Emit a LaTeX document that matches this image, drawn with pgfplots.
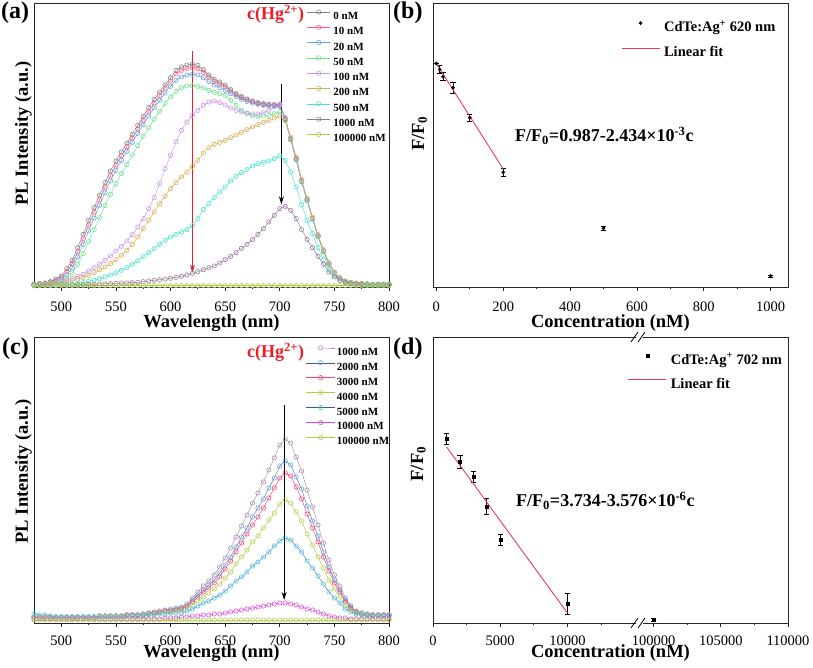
\documentclass[border=0pt]{standalone}
\usepackage{fontspec}
\setmainfont{Liberation Serif}
\usepackage{pgfplots}
\usepackage{pgfplotstable}
\pgfplotsset{compat=1.18}
\usetikzlibrary{arrows.meta}

\definecolor{cGray}{RGB}{128,128,128}
\definecolor{cPink}{RGB}{240,100,130}
\definecolor{cBlue}{RGB}{100,160,225}
\definecolor{cGreen}{RGB}{110,225,140}
\definecolor{cLav}{RGB}{200,150,230}
\definecolor{cGold}{RGB}{215,175,85}
\definecolor{cAqua}{RGB}{70,230,200}
\definecolor{cMauve}{RGB}{150,120,155}
\definecolor{cYG}{RGB}{175,205,70}
\definecolor{cNavy}{RGB}{70,85,160}
\definecolor{cSky}{RGB}{100,170,230}
\definecolor{cRose}{RGB}{240,70,115}
\definecolor{cCyan}{RGB}{70,200,235}
\definecolor{cMag}{RGB}{210,80,215}
\definecolor{cRed}{RGB}{235,30,40}
\definecolor{cFit}{RGB}{235,60,85}

\pgfplotstableread{
wl g p b gr lv gd aq mv yg
475 8 8 8 7 5 5 4 5 4
480 10 10 9 8 6 6 4 5 4
485 12 11 10 9 7 7 5 5 4
490 16 14 12 10 9 8 5 5 4
495 24 20 16 13 12 10 6 5 4
500 33 28 22 17 16 12 7 6 4
505 55 46 36 26 21 15 8 6 4
510 80 70 57 42 26 19 9 6 4
515 118 106 90 68 32 24 11 7 4
520 158 145 128 100 38 28 13 7 4
525 200 186 168 136 48 35 17 8 4
530 238 225 207 172 58 43 21 8 4
535 275 262 245 208 68 52 25 9 4
540 313 300 283 244 80 60 30 9 4
545 348 335 318 278 93 70 36 10 4
550 378 366 350 310 108 82 43 11 4
555 405 394 380 340 122 95 50 12 4
560 432 421 407 368 138 110 58 12 4
565 458 447 434 396 157 128 68 13 4
570 485 474 461 424 180 150 79 14 4
575 512 501 487 452 205 175 91 16 4
580 538 527 513 478 235 200 103 18 4
585 563 552 537 503 268 225 115 20 4
590 585 575 560 527 310 250 128 22 4
595 606 597 582 550 355 272 140 24 4
600 628 618 602 570 395 295 150 26 4
605 650 639 620 587 435 313 158 29 4
610 660 650 630 598 470 330 165 32 4
615 666 656 636 603 495 345 172 36 4
620 668 658 638 604 515 362 184 41 4
625 665 655 636 602 530 380 205 46 4
630 652 644 628 597 545 402 232 52 4
635 636 630 617 590 555 418 250 58 4
640 623 617 606 584 558 428 268 63 4
645 615 609 598 580 553 434 285 72 4
650 606 600 590 575 546 440 300 82 4
655 592 588 580 560 537 448 318 92 4
660 580 577 571 545 530 456 332 103 4
665 571 568 563 530 525 464 343 116 4
670 564 561 557 520 522 472 352 128 4
675 558 556 552 514 519 480 363 142 4
680 553 551 548 512 519 487 370 158 4
685 550 548 545 513 523 494 374 175 4
690 548 546 544 515 530 500 378 195 4
695 547 545 543 520 540 507 385 215 4
700 547 544 542 525 548 513 393 235 4
705 505 503 502 500 508 500 380 242 4
710 445 443 442 441 446 450 345 230 4
715 385 383 382 381 386 390 300 205 4
720 318 316 316 315 319 323 248 172 4
725 262 260 260 259 263 266 200 143 4
730 205 204 204 203 206 209 160 118 4
735 153 152 152 151 154 157 118 92 4
740 108 107 107 106 109 112 82 68 4
745 70 69 69 68 71 73 52 45 4
750 42 42 42 41 43 45 33 30 4
755 27 26 26 26 27 28 20 20 4
760 17 17 17 17 17 18 13 14 4
765 13 13 13 13 13 14 10 10 4
770 11 11 11 11 11 11 9 8 4
775 10 10 10 10 10 10 8 7 4
780 9 9 9 9 9 9 7 6 4
785 8 8 8 8 8 8 7 6 4
790 8 8 8 8 8 8 7 6 4
795 8 8 8 8 8 8 7 6 4
800 8 8 8 8 8 8 7 6 4
}\dataA

\pgfplotstableread{
wl a b c d e f g
475 6 6 6 6 9 4 3
480 6 6 6 6 8 4 3
485 6 6 6 6 8 4 3
490 6 6 6 6 7 4 3
495 6 6 6 6 6 4 3
500 6 6 6 6 6 4 3
505 6 6 6 6 6 4 3
510 6 6 6 6 6 4 3
515 6 6 6 6 6 4 3
520 6 6 6 6 6 4 3
525 6 6 6 6 6 4 3
530 6 6 6 6 6 4 3
535 7 7 7 7 6 4 3
540 7 7 7 7 6 4 3
545 7 7 7 7 6 4 3
550 7 7 7 7 6 4 3
555 7 7 7 7 6 4 3
560 8 8 8 7 7 4 3
565 8 8 8 7 7 4 3
570 8 8 8 7 7 4 3
575 9 9 8 8 7 4 3
580 10 10 9 9 8 4 3
585 11 10 10 9 8 4 3
590 12 11 11 10 9 4 3
595 13 12 12 11 9 5 3
600 14 13 12 11 10 5 3
605 15 14 13 12 10 5 3
610 16 15 14 13 10 6 3
615 19 17 17 15 12 6 3
620 25 23 21 18 14 7 3
625 31 28 26 22 17 7 3
630 37 33 31 26 20 8 3
635 42 38 35 30 22 8 3
640 48 43 40 34 25 9 3
645 56 50 46 39 28 9 3
650 65 58 54 45 32 10 3
655 75 66 62 51 37 11 3
660 86 76 71 59 42 12 3
665 97 86 80 66 46 13 3
670 108 95 89 73 51 14 3
675 120 106 98 81 57 15 3
680 130 115 106 87 61 16 3
685 141 124 115 95 66 17 3
690 153 135 125 103 71 18 3
695 165 145 135 110 77 19 3
700 178 157 145 119 82 20 3
705 184 162 150 123 85 20 3
710 180 158 147 120 83 19 3
715 166 146 136 111 77 18 3
720 152 134 124 102 71 16 3
725 133 117 109 89 62 14 3
730 116 102 95 78 55 13 3
735 98 87 81 66 47 11 3
740 80 71 66 55 39 9 3
745 63 56 52 43 31 7 3
750 48 43 40 34 25 6 3
755 37 33 31 26 20 5 3
760 25 23 21 18 14 5 3
765 17 16 15 13 11 4 3
770 12 11 11 10 9 4 3
775 10 10 9 9 8 4 3
780 9 9 8 8 7 4 3
785 8 8 8 7 7 4 3
790 8 8 8 7 7 4 3
795 8 8 8 7 7 4 3
800 8 8 8 7 7 4 3
}\dataC

\pgfplotstableread{
c f e
0 0.987 0
10 0.959 0.018
20 0.926 0.018
50 0.875 0.025
100 0.737 0.015
200 0.485 0.020
500 0.227 0.010
1000 0.007 0.004
}\dataB

% x of the 100000 nM point is placed on the right segment of the broken axis (100000 -> 16400)
\pgfplotstableread{
c f e
1000 1.000 0.029
2000 0.877 0.036
3000 0.797 0.030
4000 0.635 0.042
5000 0.452 0.032
10000 0.105 0.056
16400 0.018 0.008
}\dataD

\pgfplotsset{
  panel/.style={
    scale only axis, width=355pt, anchor=south west, clip=false,
    axis line style={line width=0.9pt, black!85},
    ytick=\empty, xtick pos=bottom, tick align=outside,
    major tick length=4pt, minor tick length=2.5pt,
    every tick/.style={line width=0.8pt, black!85},
    /pgf/number format/assume math mode=true,
    /pgf/number format/1000 sep={},
    ticklabel style={font=\fontsize{14.5}{14.5}\selectfont, inner sep=0pt},
    xticklabel style={anchor=base, yshift=-21pt},
    xlabel style={font=\fontsize{18.5}{18.5}\selectfont\bfseries, inner sep=0pt, at={(axis description cs:0.5,0)}, anchor=base, yshift=-41pt},
    ylabel style={font=\fontsize{18.5}{18.5}\selectfont\bfseries, inner sep=0pt, anchor=base},
  },
  spec/.style={mark=o, mark size=2.2pt, line width=0.45pt, mark options={line width=0.55pt}},
  smallleg/.style={
    legend cell align=left,
    legend style={draw=none, fill=none, inner sep=0pt, outer sep=0pt, anchor=north west,
      font=\fontsize{11}{11}\selectfont\bfseries,
      nodes={inner sep=0pt, text height=7.5pt, text depth=0pt}},
  },
  bigleg/.style={
    legend cell align=left,
    legend style={draw=none, fill=none, inner sep=0pt, outer sep=0pt, anchor=north west,
      font=\fontsize{14.5}{14.5}\selectfont\bfseries, column sep=4pt,
      nodes={inner sep=0pt, text height=10pt, text depth=3pt}},
  },
  legdot/.style={legend image code/.code={\path (0pt,0pt) (38pt,9.6pt);\draw[mark repeat=2, mark phase=2, ##1] plot coordinates {(0pt,4.8pt) (19pt,4.8pt) (38pt,4.8pt)};}},
  legA/.style={legend image code/.code={\draw[mark repeat=2, mark phase=2, ##1] plot coordinates {(0pt,3.7pt) (11.5pt,3.7pt) (23pt,3.7pt)};}},
  legC/.style={legend image code/.code={\draw[mark repeat=2, mark phase=2, ##1] plot coordinates {(0pt,3.7pt) (14.5pt,3.7pt) (29pt,3.7pt)};}},
}

\begin{document}
\begin{tikzpicture}[x=1pt, y=1pt]
\useasboundingbox (0,0) rectangle (813,668);

% ---------------- (a) ----------------
\begin{axis}[panel, smallleg, legA, at={(34pt,381pt)}, height=284pt,
  xmin=475, xmax=800, ymin=0, ymax=852,
  xtick={500,550,...,800}, minor x tick num=1,
  xlabel={Wavelength (nm)}, ylabel={PL Intensity (a.u.)},
  ylabel style={at={(axis description cs:-0.017,0.54)}},
  legend style={at={(0.769,0.976)}, row sep=5.65pt, column sep=3pt},
]
\addplot[spec, cGray] table[x=wl, y=g] {\dataA};
\addplot[spec, cPink] table[x=wl, y=p] {\dataA};
\addplot[spec, cBlue] table[x=wl, y=b] {\dataA};
\addplot[spec, cGreen] table[x=wl, y=gr] {\dataA};
\addplot[spec, cLav] table[x=wl, y=lv] {\dataA};
\addplot[spec, cGold] table[x=wl, y=gd] {\dataA};
\addplot[spec, cAqua] table[x=wl, y=aq] {\dataA};
\addplot[spec, cMauve] table[x=wl, y=mv] {\dataA};
\addplot[spec, cYG] table[x=wl, y=yg] {\dataA};
\legend{0 nM, 10 nM, 20 nM, 50 nM, 100 nM, 200 nM, 500 nM, 1000 nM, 100000 nM}
\draw[cRed, line width=1pt, -{Stealth[length=8pt, width=5pt]}] (axis cs:620,708) -- (axis cs:620,43);
\draw[black, line width=1pt, -{Stealth[length=8pt, width=5pt]}] (axis cs:701.5,608) -- (axis cs:701.5,248);
\end{axis}

% ---------------- (b) ----------------
\begin{axis}[panel, bigleg, legdot, at={(433pt,381pt)}, height=284pt,
  xmin=-10, xmax=1052, ymin=-0.044, ymax=1.266,
  xtick={0,200,...,1000}, minor x tick num=1,
  xlabel={Concentration (nM)}, ylabel={F/F\textsubscript{0}},
  ylabel style={at={(axis description cs:-0.025,0.54)}},
  legend style={at={(0.53,0.947)}, row sep=9pt},
]
\addplot[only marks, mark=*, mark size=1.6pt, black,
  error bars/.cd, y dir=both, y explicit,
  error bar style={line width=0.6pt, black},
  error mark options={rotate=90, mark size=2.6pt, line width=0.6pt, black}]
  table[x=c, y=f, y error=e] {\dataB};
\addplot[cFit, line width=0.9pt, mark=none] coordinates {(0,0.987) (200,0.5002)};
\legend{CdTe:Ag\textsuperscript{+} 620 nm, Linear fit}
\end{axis}

% ---------------- (c) ----------------
\begin{axis}[panel, smallleg, legC, at={(34pt,45pt)}, height=286pt,
  xmin=475, xmax=800, ymin=0, ymax=286,
  xtick={500,550,...,800}, minor x tick num=1,
  xlabel={Wavelength (nm)}, ylabel={PL Intensity (a.u.)},
  xlabel style={yshift=6pt}, xticklabel style={yshift=2pt},
  ylabel style={at={(axis description cs:-0.017,0.53)}},
  legend style={at={(0.766,0.970)}, row sep=5.3pt, column sep=1.5pt},
]
\addplot[spec, cMauve!85!white] table[x=wl, y=a] {\dataC};
\addplot[spec, cNavy, line width=0.35pt, mark options={cSky, line width=0.6pt}] table[x=wl, y=b] {\dataC};
\addplot[spec, cRose] table[x=wl, y=c] {\dataC};
\addplot[spec, cYG] table[x=wl, y=d] {\dataC};
\addplot[spec, cNavy, line width=0.35pt, mark options={cCyan, line width=0.6pt}] table[x=wl, y=e] {\dataC};
\addplot[spec, cMag] table[x=wl, y=f] {\dataC};
\addplot[spec, cYG] table[x=wl, y=g] {\dataC};
\legend{1000 nM, 2000 nM, 3000 nM, 4000 nM, 5000 nM, 10000 nM, 100000 nM}
\draw[black, line width=1pt, -{Stealth[length=8pt, width=5pt]}] (axis cs:704,218) -- (axis cs:704,23);
\end{axis}

% ---------------- (d) ----------------
\begin{axis}[panel, bigleg, legdot, at={(433pt,45pt)}, height=286pt,
  xmin=0, xmax=26400, ymin=0, ymax=1.555,
  xtick={0,5000,10000,16400,21400,26400},
  xticklabels={0,5000,10000,100000,105000,110000},
  minor xtick={2500,7500,12500,18900,23900},
  xlabel={Concentration (nM)}, ylabel={F/F\textsubscript{0}},
  xlabel style={yshift=6pt}, xticklabel style={yshift=2pt},
  ylabel style={at={(axis description cs:-0.028,0.556)}},
  legend style={at={(0.549,0.952)}, row sep=7.5pt},
]
\addplot[only marks, mark=square*, mark size=1.5pt, black,
  error bars/.cd, y dir=both, y explicit,
  error bar style={line width=0.6pt, black},
  error mark options={rotate=90, mark size=2.6pt, line width=0.6pt, black}]
  table[x=c, y=f, y error=e] {\dataD};
\addplot[cFit, line width=0.9pt, mark=none] coordinates {(1000,0.958) (10000,0.054)};
\legend{CdTe:Ag\textsuperscript{+} 702 nm, Linear fit}
\end{axis}

% axis breaks of (d)
\foreach \yy in {45,331} {
  \fill[white] (636,\yy-2) rectangle (643,\yy+2);
  \draw[black, line width=0.8pt] (631,\yy-5) -- (638,\yy+5);
  \draw[black, line width=0.8pt] (638,\yy-5) -- (645,\yy+5);
}

% panel labels and annotations
\node[anchor=base west, font=\fontsize{24}{24}\selectfont\bfseries, inner sep=0pt] at (1,649.5) {(a)};
\node[anchor=base west, font=\fontsize{24}{24}\selectfont\bfseries, inner sep=0pt] at (393,649.5) {(b)};
\node[anchor=base west, font=\fontsize{24}{24}\selectfont\bfseries, inner sep=0pt] at (2,313) {(c)};
\node[anchor=base west, font=\fontsize{24}{24}\selectfont\bfseries, inner sep=0pt] at (393,313) {(d)};
\node[anchor=base west, text=cRed, font=\fontsize{18}{18}\selectfont\bfseries, inner sep=0pt] at (247,648) {c(Hg\textsuperscript{2+})};
\node[anchor=base west, text=cRed, font=\fontsize{18}{18}\selectfont\bfseries, inner sep=0pt] at (247,310) {c(Hg\textsuperscript{2+})};
\node[anchor=base west, font=\fontsize{18}{18}\selectfont\bfseries, inner sep=0pt] at (515,526) {F/F\textsubscript{0}=0.987-2.434×10\textsuperscript{-3}c};
\node[anchor=base west, font=\fontsize{18}{18}\selectfont\bfseries, inner sep=0pt] at (516,161) {F/F\textsubscript{0}=3.734-3.576×10\textsuperscript{-6}c};
\end{tikzpicture}
\end{document}
